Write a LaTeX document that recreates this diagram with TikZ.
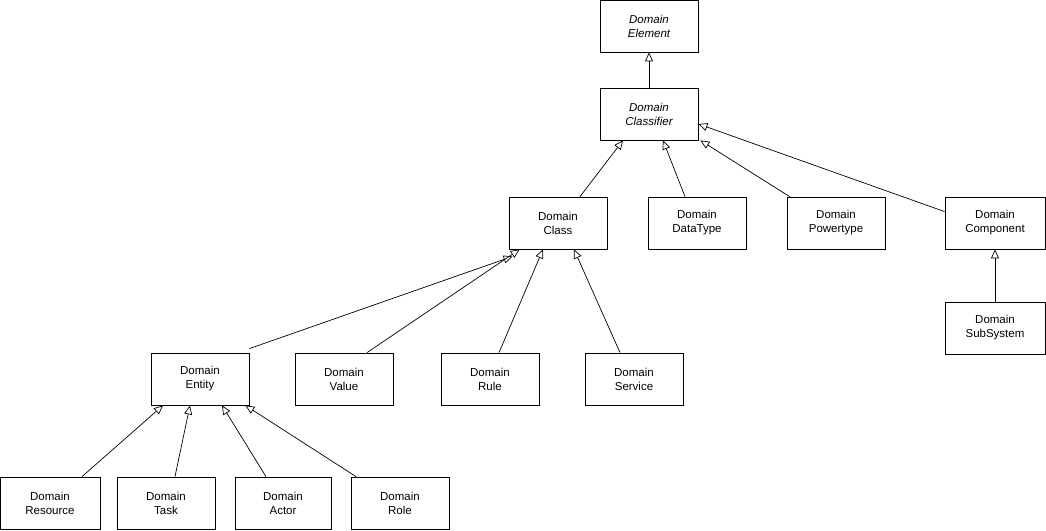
\documentclass[tikz,border=0pt]{standalone}
\usepackage{fontspec}
\setmainfont{Liberation Sans}
\usetikzlibrary{arrows.meta}
\begin{document}
\begin{tikzpicture}[x=1pt,y=-1pt,
  box/.style={draw,line width=0.8pt,minimum width=98pt,minimum height=52pt,align=center,font=\fontsize{11.5}{14}\selectfont,inner sep=1pt},
  gen/.style={-{Triangle[open,length=9pt,width=8pt]},line width=0.7pt}]
\useasboundingbox (0,0) rectangle (1046,530);
\node[box,font=\fontsize{11.5}{14}\selectfont\itshape] (el) at (649,26) {Domain\\Element};
\node[box,font=\fontsize{11.5}{14}\selectfont\itshape] (cf) at (649,114) {Domain\\Classifier};
\node[box] (cl) at (558,223) {Domain\\Class};
\node[box] (dt) at (697,223) {Domain\\DataType};
\node[box] (pt) at (836,223) {Domain\\Powertype};
\node[box,minimum width=100pt] (co) at (995,223) {Domain\\Component};
\node[box,minimum width=100pt] (ss) at (995,328) {Domain\\SubSystem};
\node[box] (en) at (200,379) {Domain\\Entity};
\node[box] (va) at (344,379) {Domain\\Value};
\node[box] (ru) at (490,379) {Domain\\Rule};
\node[box] (se) at (634,379) {Domain\\Service};
\node[box,minimum width=100pt] (rs) at (50,503) {Domain\\Resource};
\node[box] (ta) at (166,503) {Domain\\Task};
\node[box,minimum width=96pt] (ac) at (283,503) {Domain\\Actor};
\node[box] (ro) at (400,503) {Domain\\Role};
\draw[gen] (cf) -- (el);
\draw[gen] (ss) -- (co);
\draw[gen] ([xshift=22pt]cl.north) -- ([xshift=-26pt]cf.south);
\draw[gen] ([xshift=-12pt]dt.north) -- ([xshift=14pt]cf.south);
\draw[gen] ([xshift=3pt]pt.north west) -- ([xshift=2pt]cf.south east);
\draw[gen] ([yshift=-15pt]co.north west) -- ([yshift=-10pt]cf.east);
\draw[gen] ([yshift=4pt]en.north east) -- ([xshift=4pt,yshift=-7pt]cl.south west);
\draw[gen] ([xshift=23pt]va.north) -- ([xshift=11pt]cl.south west);
\draw[gen] ([xshift=9pt]ru.north) -- ([xshift=-15pt]cl.south);
\draw[gen] ([xshift=-14pt]se.north) -- ([xshift=16pt]cl.south);
\draw[gen] ([xshift=32pt]rs.north) -- ([xshift=-37pt]en.south);
\draw[gen] ([xshift=9pt]ta.north) -- ([xshift=-10pt]en.south);
\draw[gen] ([xshift=-17pt]ac.north) -- ([xshift=22pt]en.south);
\draw[gen] ([xshift=-44pt]ro.north) -- ([xshift=-4pt]en.south east);
\end{tikzpicture}
\end{document}
